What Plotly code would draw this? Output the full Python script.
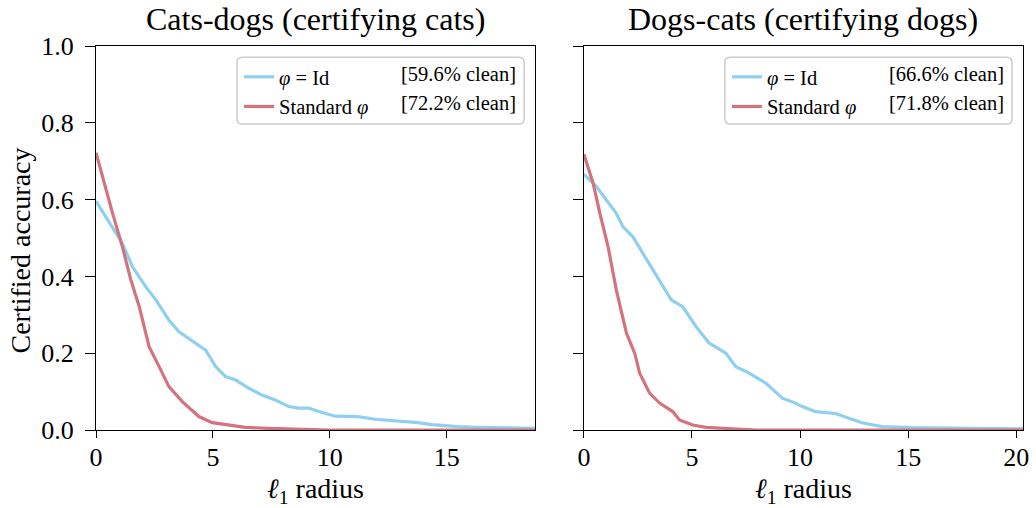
import plotly.graph_objects as go
from plotly.subplots import make_subplots

# Certified accuracy vs. l1 radius, cats-dogs task (certifying cats)
cd_id_r = [0, 0.71, 1.13, 1.56, 2.13, 2.56, 3.12, 3.55, 4.26, 4.69, 5.12, 5.54, 5.97,
           6.53, 7.10, 7.67, 8.24, 8.67, 9.09, 9.52, 10.23, 11.2, 11.94, 12.93, 13.78,
           14.35, 14.92, 15.49, 16.3, 17.76, 18.78]
cd_id_acc = [0.596, 0.529, 0.486, 0.425, 0.373, 0.339, 0.286, 0.256, 0.226, 0.208, 0.165,
             0.139, 0.130, 0.109, 0.091, 0.078, 0.061, 0.057, 0.057, 0.048, 0.036, 0.035,
             0.028, 0.024, 0.019, 0.014, 0.011, 0.009, 0.007, 0.005, 0.004]
cd_std_r = [0, 0.43, 0.71, 1.13, 1.49, 1.85, 2.27, 2.70, 3.12, 3.69, 4.12, 4.40, 4.97,
            5.68, 6.39, 7.39, 9.09, 10.0, 18.78]
cd_std_acc = [0.722, 0.625, 0.564, 0.477, 0.391, 0.321, 0.217, 0.165, 0.113, 0.074, 0.052,
              0.035, 0.019, 0.013, 0.007, 0.004, 0.002, 0.0, 0.0]

# Dogs-cats task (certifying dogs)
dc_id_r = [0, 0.58, 1.04, 1.50, 1.81, 2.27, 2.73, 3.19, 3.65, 4.04, 4.57, 5.19, 5.80,
           6.57, 7.03, 7.64, 8.41, 9.18, 9.79, 10.10, 10.71, 11.63, 12.86, 13.78, 15.16,
           17.46, 19.3, 20.31]
dc_id_acc = [0.666, 0.634, 0.599, 0.564, 0.529, 0.503, 0.460, 0.417, 0.373, 0.339, 0.321,
             0.269, 0.226, 0.200, 0.165, 0.148, 0.122, 0.083, 0.070, 0.061, 0.048, 0.043,
             0.019, 0.009, 0.006, 0.004, 0.003, 0.003]
dc_std_r = [0, 0.43, 0.74, 1.12, 1.50, 1.97, 2.35, 2.58, 3.04, 3.50, 4.11, 4.42, 5.03,
            5.65, 6.87, 8.0, 20.31]
dc_std_acc = [0.718, 0.642, 0.564, 0.477, 0.365, 0.252, 0.200, 0.148, 0.096, 0.070, 0.048,
              0.026, 0.013, 0.007, 0.003, 0.0, 0.0]

panel_titles = ["Cats-dogs (certifying cats)", "Dogs-cats (certifying dogs)"]
clean_id = ["[59.6% clean]", "[66.6% clean]"]
clean_std = ["[72.2% clean]", "[71.8% clean]"]
x_max = [18.78, 20.31]

BLUE = "#8fd0ef"
RED = "#d4737f"
FONT = "Liberation Serif"
PHI = "<i>φ</i>"

fig = make_subplots(rows=1, cols=2, shared_yaxes=True, horizontal_spacing=0.0526,
                    subplot_titles=panel_titles)

series = [(cd_id_r, cd_id_acc, cd_std_r, cd_std_acc),
          (dc_id_r, dc_id_acc, dc_std_r, dc_std_acc)]
for i, (r1, a1, r2, a2) in enumerate(series):
    leg = "legend" if i == 0 else "legend2"
    fig.add_trace(go.Scatter(x=r1, y=a1, mode="lines", name=f"{PHI} = Id",
                             line=dict(color=BLUE, width=3.2), legend=leg), row=1, col=i + 1)
    fig.add_trace(go.Scatter(x=r2, y=a2, mode="lines", name=f"Standard {PHI}",
                             line=dict(color=RED, width=3.2), legend=leg), row=1, col=i + 1)

axis_common = dict(showline=True, mirror=True, linecolor="black", linewidth=1.3,
                   ticks="outside", tickwidth=1.3, tickcolor="black",
                   showgrid=False, zeroline=False,
                   tickfont=dict(family=FONT, size=26, color="black"))
for i in range(2):
    fig.update_xaxes(range=[0, x_max[i]], tickvals=[0, 5, 10, 15, 20],
                     ticklen=7, ticklabelstandoff=-3,
                     title=dict(text="<i>ℓ</i><sub>1</sub> radius",
                                font=dict(family=FONT, size=28, color="black"), standoff=9),
                     row=1, col=i + 1, **axis_common)
    fig.update_yaxes(range=[0, 1], tickvals=[0, 0.2, 0.4, 0.6, 0.8, 1.0],
                     ticklen=10, ticklabelstandoff=6,
                     tickformat=".1f", row=1, col=i + 1, **axis_common)
fig.update_yaxes(showticklabels=False, row=1, col=2)

for ann in fig.layout.annotations:
    ann.font = dict(family=FONT, size=32, color="black")
    ann.yshift = 7

# y-axis label placed as a rotated annotation
fig.add_annotation(text="Certified accuracy", textangle=-90, showarrow=False,
                   xref="paper", yref="paper", x=(20 - 96) / 933, y=(430 - 250) / 384,
                   xanchor="center", yanchor="middle",
                   font=dict(family=FONT, size=28, color="black"))

# rounded legend frames and the "clean" columns
def rounded_box(x0, y0, x1, y1, r=0.012):
    ry = r * 442 / 384
    return (f"M {x0 + r},{y0} L {x1 - r},{y0} Q {x1},{y0} {x1},{y0 + ry} "
            f"L {x1},{y1 - ry} Q {x1},{y1} {x1 - r},{y1} L {x0 + r},{y1} "
            f"Q {x0},{y1} {x0},{y1 - ry} L {x0},{y0 + ry} Q {x0},{y0} {x0 + r},{y0} Z")

for i in range(2):
    xr = "x domain" if i == 0 else "x2 domain"
    yr = "y domain" if i == 0 else "y2 domain"
    fig.add_shape(type="path", path=rounded_box(0.321, 0.797, 0.975, 0.971),
                  xref=xr, yref=yr, line=dict(color="#cccccc", width=1.5),
                  fillcolor="rgba(255,255,255,0.8)", layer="above")
    fig.add_annotation(text=clean_id[i], x=0.953, y=0.927, xref=xr, yref=yr,
                       xanchor="right", yanchor="middle", showarrow=False, xshift=4,
                       font=dict(family=FONT, size=20.5, color="black"))
    fig.add_annotation(text=clean_std[i], x=0.953, y=0.8516, xref=xr, yref=yr,
                       xanchor="right", yanchor="middle", showarrow=False, xshift=4,
                       font=dict(family=FONT, size=20.5, color="black"))

leg_common = dict(bgcolor="rgba(0,0,0,0)", borderwidth=0, xanchor="left", yanchor="top",
                  font=dict(family=FONT, size=20.5, color="black"), tracegroupgap=0,
                  itemwidth=30)
fig.update_layout(
    legend=dict(x=(240 - 96) / 933, y=(430 - 57) / 384, **leg_common),
    legend2=dict(x=(731 - 96) / 933, y=(430 - 57) / 384, **leg_common),
    width=1036, height=508,
    margin=dict(l=96, r=7, t=46, b=78),
    plot_bgcolor="white", paper_bgcolor="white",
    font=dict(family=FONT, color="black"),
)

fig.write_html("out.html")
